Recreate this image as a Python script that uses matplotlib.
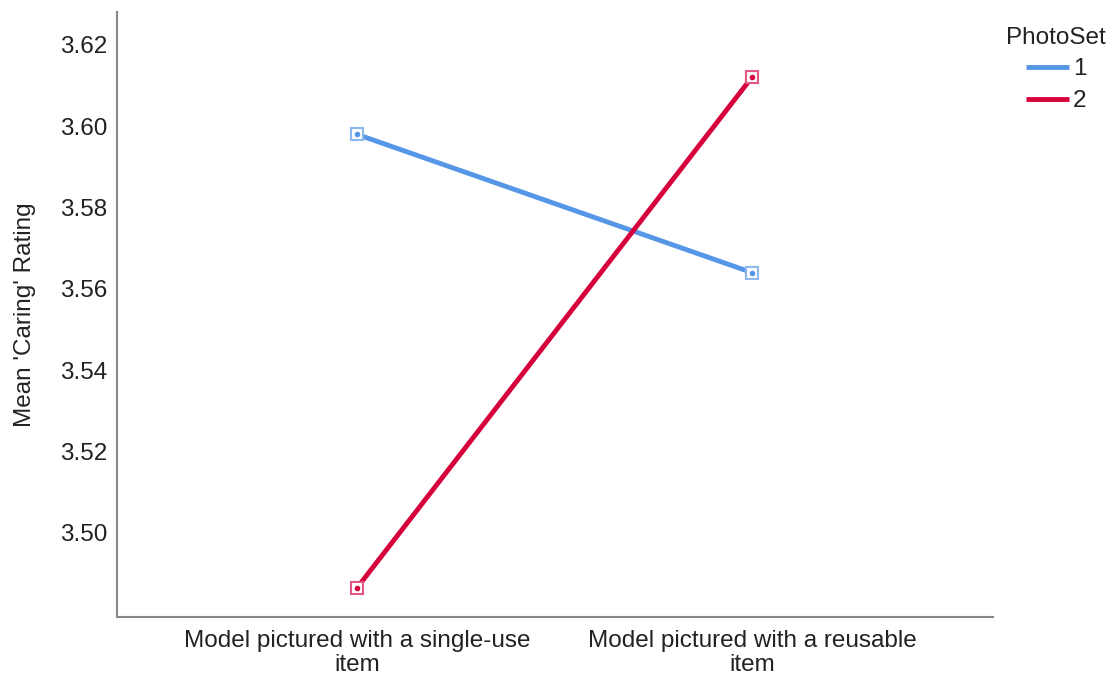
import numpy as np
import matplotlib
matplotlib.use("Agg")
import matplotlib.pyplot as plt

plt.rcParams['font.family'] = ['Liberation Sans', 'DejaVu Sans']

# data
categories = ["Model pictured with a single-use\nitem", "Model pictured with a reusable\nitem"]
series_names = ["1", "2"]
photoset_1 = [3.598, 3.564]
photoset_2 = [3.4865, 3.6121]
yticks = [3.50, 3.52, 3.54, 3.56, 3.58, 3.60, 3.62]

line_colors = ["#5596E6", "#D6003C"]
marker_colors = ["#8DB8EE", "#E35780"]
fs = 17.5

fig = plt.figure(figsize=(11.12, 6.77), dpi=100)
ax = fig.add_axes([117 / 1112, 1 - 617 / 677, (993 - 117) / 1112, (617 - 12) / 677])

x = np.arange(len(categories))
for vals, name, lc, mc in zip([photoset_1, photoset_2], series_names, line_colors, marker_colors):
    ax.plot(x, vals, color=lc, linewidth=3.5, label=name, solid_capstyle='butt', zorder=2)
    ax.plot(x, vals, linestyle='none', marker='s', markersize=8.5, markerfacecolor='white',
            markeredgecolor=mc, markeredgewidth=1.5, zorder=3)
    ax.plot(x, vals, linestyle='none', marker='o', markersize=3, color=lc, zorder=4)

ax.set_xlim(-0.608, 1.61)
ax.set_ylim(3.4793, 3.6281)
ax.set_xticks(x)
ax.set_xticklabels(categories, fontsize=fs, color="#222222", linespacing=1.12)
ax.set_yticks(yticks)
ax.set_yticklabels(["%.2f" % v for v in yticks], fontsize=fs, color="#222222")
ax.tick_params(axis='y', length=0, pad=7)
ax.tick_params(axis='x', length=0, pad=9)
ax.set_ylabel("Mean 'Caring' Rating", fontsize=fs, color="#222222", labelpad=17)

for s in ['top', 'right']:
    ax.spines[s].set_visible(False)
for s in ['left', 'bottom']:
    ax.spines[s].set_color("#888888")
    ax.spines[s].set_linewidth(1.5)

leg = ax.legend(title="PhotoSet", loc='upper left', bbox_to_anchor=(0.993, 1.008),
                frameon=False, fontsize=fs, title_fontsize=fs, handlelength=1.8,
                handletextpad=0.15, labelspacing=0.4, borderpad=0.3)
leg.get_title().set_color("#222222")
for t in leg.get_texts():
    t.set_color("#222222")
for h in leg.get_lines():
    h.set_linewidth(3.5)

fig.savefig("out.png", dpi=100)
